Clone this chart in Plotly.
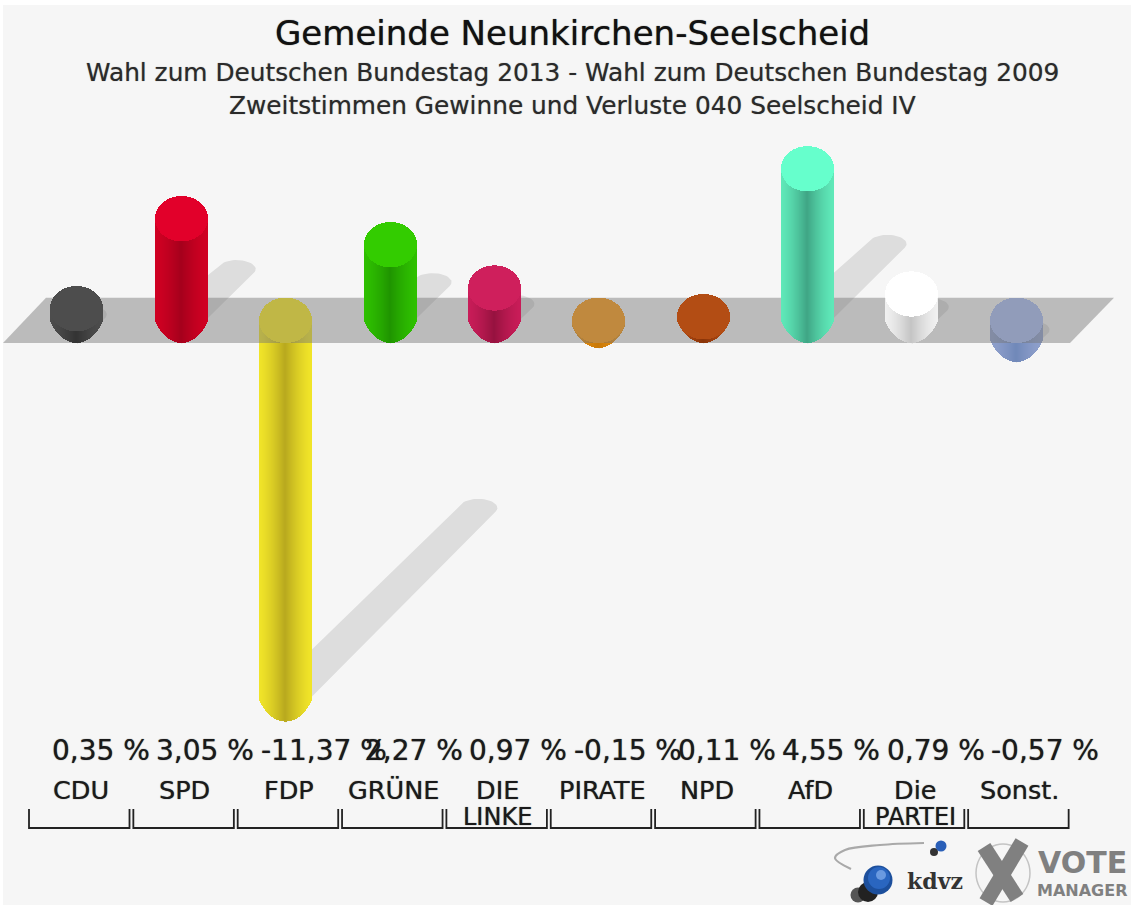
import numpy as np
import plotly.graph_objects as go

# ---- data ----
parties_line1 = ["CDU", "SPD", "FDP", "GRÜNE", "DIE", "PIRATE", "NPD", "AfD", "Die", "Sonst."]
parties_line2 = ["", "", "", "", "LINKE", "", "", "", "PARTEI", ""]
values = [0.35, 3.05, -11.37, 2.27, 0.97, -0.15, 0.11, 4.55, 0.79, -0.57]
value_labels = ["0,35 %", "3,05 %", "-11,37 %", "2,27 %", "0,97 %", "-0,15 %", "0,11 %", "4,55 %", "0,79 %", "-0,57 %"]
cap_colors = ["#4d4d4d", "#e2002a", "#ffef1e", "#33cc00", "#cf1f5c", "#ff9a10", "#b34d14", "#66ffcc", "#ffffff", "#a8bcf4"]
edge_colors = ["#4d4d4d", "#d00022", "#f0e428", "#2ec000", "#c81c58", "#e89010", "#b04a12", "#5fe8b8", "#f0f0f0", "#8fa0cc"]
dark_colors = ["#333333", "#a5001c", "#b8a81e", "#1f9400", "#96123f", "#c87808", "#8a3408", "#3fa585", "#c4c4c4", "#7088b8"]

title = "Gemeinde Neunkirchen-Seelscheid"
subtitle1 = "Wahl zum Deutschen Bundestag 2013 - Wahl zum Deutschen Bundestag 2009"
subtitle2 = "Zweitstimmen Gewinne und Verluste 040 Seelscheid IV"

# ---- page geometry ----
W, H = 1131, 905
X0, DX = 77.0, 104.35      # pixel of first category, pixels per category
Y0, DY = 320.3, 33.3       # pixel of value 0, pixels per unit
def X(px): return (np.asarray(px, dtype=float) - X0) / DX
def Y(py): return (Y0 - np.asarray(py, dtype=float)) / DY

xr = [float(X(0)), float(X(W))]
yr = [float(Y(H)), float(Y(0))]
R = 25.5   # cylinder half width, px
E = 22.6 / DY  # ellipse half height, value units
FONT = "DejaVu Sans"

def hex2rgb(h):
    return np.array([int(h[i:i + 2], 16) for i in (1, 3, 5)], dtype=float)

def mix(a, b, f):
    c = hex2rgb(a) * (1 - f) + hex2rgb(b) * f
    return "rgb(%d,%d,%d)" % tuple(np.round(c))

def cylinder(i, yaxis):
    v = values[i]
    hi, lo = max(v, 0), min(v, 0)
    offs = np.arange(-R, R + 0.01, 1.0)
    t = np.clip(np.abs(offs) / (R + 0.5), 0, 1)
    xs = i + offs / DX
    arc = np.sqrt(1 - t ** 2)
    bottom = lo - E * (1 - t ** 2) ** 0.8
    cols = [mix(edge_colors[i], dark_colors[i], float((1 - a) ** 1.4)) for a in t]
    body = go.Bar(x=xs, base=bottom, y=hi - bottom, width=1.02 / DX, marker=dict(color=cols, line=dict(width=0)),
                  yaxis=yaxis, xaxis="x", name=parties_line1[i], hoverinfo="skip", showlegend=False)
    cap = go.Bar(x=xs, base=hi - E * arc, y=2 * E * arc, width=1.02 / DX,
                 marker=dict(color=cap_colors[i], line=dict(width=0)),
                 yaxis=yaxis, xaxis="x", name=parties_line1[i], hoverinfo="skip", showlegend=False)
    return [body, cap]

def shadow(i):
    v = values[i]
    a = abs(v)
    bx = i
    by = min(v, 0)
    # tip of the cast shadow: grows with the size of the value
    tx = i + (5 + 16.5 * a) / DX
    ty = by + 16.8 * a / DY
    ang = np.radians(np.linspace(155, -25, 25))
    px = tx + 19 * np.cos(ang) / DX
    py = ty + 9 * np.sin(ang) / DY
    xs = np.concatenate([[bx], px, [bx]])
    ys = np.concatenate([[by + 24 / DY], py, [by - 24 / DY]])
    return go.Scatter(x=xs, y=ys, mode="lines", fill="toself", line=dict(width=0), fillcolor="rgba(0,0,0,0.10)",
                      xaxis="x", yaxis="y", hoverinfo="skip", showlegend=False)

fig = go.Figure()

# shadows on the lowest layer
for i in range(len(values)):
    fig.add_trace(shadow(i))

# bars pointing down lie under the translucent floor band
for i, v in enumerate(values):
    if v < 0:
        for t in cylinder(i, "y2"):
            fig.add_trace(t)

# floor band
band_x = X([3, 46, 1114, 1070, 3])
band_y = [-E, E, E, -E, -E]
fig.add_trace(go.Scatter(x=band_x, y=band_y, mode="lines", fill="toself", line=dict(width=0),
                         fillcolor="rgba(117,117,117,0.46)", xaxis="x", yaxis="y2", hoverinfo="skip", showlegend=False))

# bars pointing up stand on the band
for i, v in enumerate(values):
    if v >= 0:
        for t in cylinder(i, "y3"):
            fig.add_trace(t)

# brackets under the category names
bx, by = [], []
ytop, ybot = float(Y(809)), float(Y(828))
for i in range(len(values)):
    l, r = i + (-48 / DX), i + (52.5 / DX)
    bx += [l, l, r, r, None]
    by += [ytop, ybot, ybot, ytop, None]
fig.add_trace(go.Scatter(x=bx, y=by, mode="lines", line=dict(color="#222222", width=1.8),
                         xaxis="x", yaxis="y3", hoverinfo="skip", showlegend=False))

# ---- logos ----
def lines(pts, color, width, shape="spline"):
    return go.Scatter(x=X([p[0] for p in pts]), y=Y([p[1] for p in pts]), mode="lines",
                      line=dict(color=color, width=width, shape=shape),
                      xaxis="x", yaxis="y3", hoverinfo="skip", showlegend=False)

def dot(px, py, size, color):
    return go.Scatter(x=X([px]), y=Y([py]), mode="markers", marker=dict(size=size, color=color, line=dict(width=0)),
                      xaxis="x", yaxis="y3", hoverinfo="skip", showlegend=False)

fig.add_trace(lines([(924, 843), (880, 845), (845, 850), (835, 858), (851, 869)], "#a9a9a9", 2.2))
fig.add_trace(dot(858, 895, 15, "#555555"))
fig.add_trace(dot(868, 892, 20, "#222222"))
fig.add_trace(dot(878, 880, 29, "#1c4f9c"))
fig.add_trace(dot(879, 878, 22, "#2a66c0"))
fig.add_trace(dot(881, 875, 10, "#6a9ae0"))
fig.add_trace(dot(934, 852, 8, "#333333"))
fig.add_trace(dot(941, 846, 11, "#2a5fb8"))
ring_a = np.radians(np.arange(0, 361, 15))
fig.add_trace(lines(list(zip(1003 + 27 * np.cos(ring_a), 873 + 29 * np.sin(ring_a))), "#c4c4c4", 1.5))
fig.add_trace(lines([(1022, 842), (986, 902)], "#808080", 15, "linear"))
fig.add_trace(lines([(984, 847), (1017, 898)], "#808080", 15, "linear"))

# ---- texts ----
ann = []
def text(px, py, s, size, anchor="center", color="#1a1a1a", family=FONT, weight=400, shadow_css="0 0 1px rgba(0,0,0,0.7)"):
    ann.append(dict(x=float(X(px)), y=float(Y(py)), xref="x", yref="y", text=s, showarrow=False,
                    xanchor=anchor, yanchor="middle", align=anchor,
                    font=dict(family=family, size=size, color=color, weight=weight, shadow=shadow_css),
                    borderpad=0, borderwidth=0))

text(572, 33, title, 34, color="#111111")
text(572, 72, subtitle1, 24.8, color="#2a2a2a", shadow_css="0 0 1px rgba(0,0,0,0.45)")
text(572, 105, subtitle2, 24.8, color="#2a2a2a", shadow_css="0 0 1px rgba(0,0,0,0.45)")
for i in range(len(values)):
    cx = X0 + i * DX
    text(cx - 25, 750, value_labels[i], 28, anchor="left")
    text(cx + 3.5, 790, parties_line1[i], 25.5)
    if parties_line2[i]:
        text(cx + 3.5, 817, parties_line2[i], 24)
text(935, 881, "kdvz", 22, color="#333333", family="DejaVu Serif", weight=700, shadow_css="none")
text(1082, 862, "VOTE", 30, color="#808080", weight=700, shadow_css="none")
text(1082, 890, "MANAGER", 16, color="#808080", weight=700, shadow_css="none")

fig.update_layout(
    width=W, height=H,
    margin=dict(l=0, r=0, t=0, b=0, pad=0),
    paper_bgcolor="#ffffff", plot_bgcolor="#ffffff",
    barmode="overlay", bargap=0, showlegend=False, annotations=ann,
    shapes=[dict(type="rect", xref="paper", yref="paper", x0=3 / W, x1=1, y0=0, y1=1 - 5 / H,
                 fillcolor="#f6f6f6", line=dict(width=0), layer="below")],
    xaxis=dict(range=xr, visible=False, fixedrange=True, domain=[0, 1]),
    yaxis=dict(range=yr, visible=False, fixedrange=True, domain=[0, 1]),
    yaxis2=dict(range=yr, visible=False, fixedrange=True, overlaying="y"),
    yaxis3=dict(range=yr, visible=False, fixedrange=True, overlaying="y"),
)

fig.write_html("out.html", config={"displayModeBar": False},
               post_script="document.body.style.margin='0';document.documentElement.style.overflow='hidden';")
